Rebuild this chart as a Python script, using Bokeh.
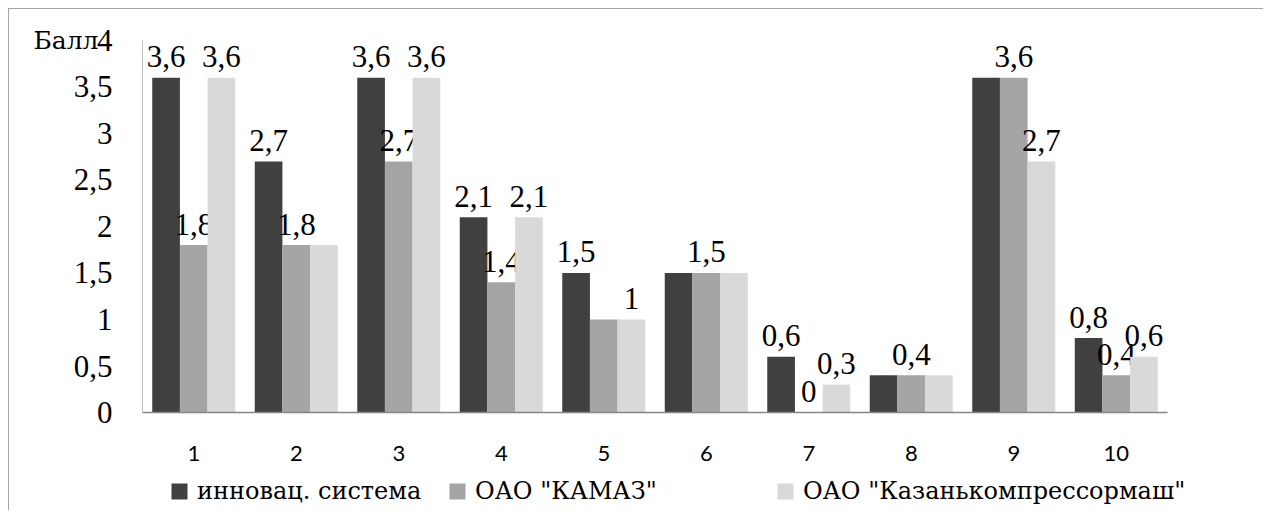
from bokeh.plotting import figure
from bokeh.models import (ColumnDataSource, FixedTicker, Legend, LegendItem, Range1d)
from bokeh.transform import dodge
from bokeh.core.properties import value
from bokeh.embed import file_html
from bokeh.resources import INLINE

categories = ["1", "2", "3", "4", "5", "6", "7", "8", "9", "10"]
series_names = ["инновац. система", "ОАО \"КАМАЗ\"", "ОАО \"Казанькомпрессормаш\""]
innov = [3.6, 2.7, 3.6, 2.1, 1.5, 1.5, 0.6, 0.4, 3.6, 0.8]
kamaz = [1.8, 1.8, 2.7, 1.4, 1.0, 1.5, 0.0, 0.4, 3.6, 0.4]
kazan = [3.6, 1.8, 3.6, 2.1, 1.0, 1.5, 0.3, 0.4, 2.7, 0.6]
# which data labels are visible in the original
show_innov = [1, 1, 1, 1, 1, 0, 1, 0, 0, 1]
show_kamaz = [1, 1, 1, 1, 0, 1, 1, 1, 1, 1]
show_kazan = [1, 0, 1, 1, 1, 0, 1, 0, 1, 1]
y_ticks = [0, 0.5, 1, 1.5, 2, 2.5, 3, 3.5, 4]
y_title = "Балл"

colors = ["#404040", "#A5A5A5", "#D9D9D9"]
offsets = [-0.27, 0.0, 0.27]
serif = "Liberation Serif"
cyr_serif = "DejaVu Serif"
xs = list(range(1, len(categories) + 1))

def fmt(v):
    return f"{v:g}".replace(".", ",")

W, H = 1255, 502
p = figure(x_range=Range1d(-0.7976, 11.446), y_range=Range1d(-1.0645, 4.3333),
           width=W, height=H, output_backend="svg", toolbar_location=None, min_border=0)
p.styles = {"margin": "8px 0 0 8px", "border-left": "1px solid #A6A6A6",
            "border-top": "1px solid #A6A6A6"}
p.outline_line_color = None
p.xgrid.grid_line_color = None
p.ygrid.grid_line_color = None
p.background_fill_color = "white"
p.border_fill_color = "white"

legend_x = [160, 438, 766]
for i, (vals, show) in enumerate([(innov, show_innov), (kamaz, show_kamaz), (kazan, show_kazan)]):
    src = ColumnDataSource(dict(x=xs, val=vals,
                                txt=[fmt(v) if s else "" for v, s in zip(vals, show)]))
    r = p.vbar(x=dodge("x", offsets[i]), top="val", width=0.27,
               source=src, fill_color=colors[i], line_color=None)
    p.text(x=dodge("x", offsets[i]), y="val", text="txt", source=src,
           text_align="center", text_baseline="alphabetic", y_offset=-21,
           text_font=value(serif), text_font_size="31px", text_color="black")
    lg = Legend(items=[LegendItem(label=series_names[i], renderers=[r])],
                location=(legend_x[i], 6), orientation="horizontal",
                padding=0, margin=0, border_line_color=None, background_fill_alpha=0,
                glyph_width=20, glyph_height=20, label_standoff=8,
                label_text_font=cyr_serif, label_text_font_size="24px",
                label_text_color="black")
    p.add_layout(lg, "center")

p.yaxis.fixed_location = 0.5
p.yaxis.bounds = (0, 4)
p.yaxis.ticker = FixedTicker(ticks=y_ticks)
p.yaxis.major_label_overrides = {t: fmt(t) for t in y_ticks}
p.yaxis.major_label_text_font = serif
p.yaxis.major_label_text_font_size = "31px"
p.yaxis.major_label_text_color = "black"
p.yaxis.major_tick_line_color = None
p.yaxis.minor_tick_line_color = None
p.yaxis.major_tick_out = 0
p.yaxis.major_tick_in = 0
p.yaxis.major_label_standoff = 30
p.yaxis.axis_line_color = "#BFBFBF"

p.xaxis.fixed_location = 0
p.xaxis.bounds = (0.5, 10.5)
p.xaxis.ticker = FixedTicker(ticks=xs)
p.xaxis.major_label_overrides = {x: c for x, c in zip(xs, categories)}
p.xaxis.major_label_text_font = "Lato"
p.xaxis.major_label_text_font_size = "22px"
p.xaxis.major_label_text_color = "black"
p.xaxis.major_tick_line_color = None
p.xaxis.minor_tick_line_color = None
p.xaxis.major_tick_out = 0
p.xaxis.major_tick_in = 0
p.xaxis.major_label_standoff = 33
p.xaxis.axis_line_color = "#868686"
p.xaxis.axis_line_width = 1.5

title_src = ColumnDataSource(dict(x=[0.0707], y=[4], txt=[y_title]))
p.text(x="x", y="y", text="txt", source=title_src, text_align="right",
       text_baseline="middle", text_font=value(cyr_serif), text_font_size="25px",
       text_color="black")

open("out.html", "w").write(file_html(p, INLINE))
